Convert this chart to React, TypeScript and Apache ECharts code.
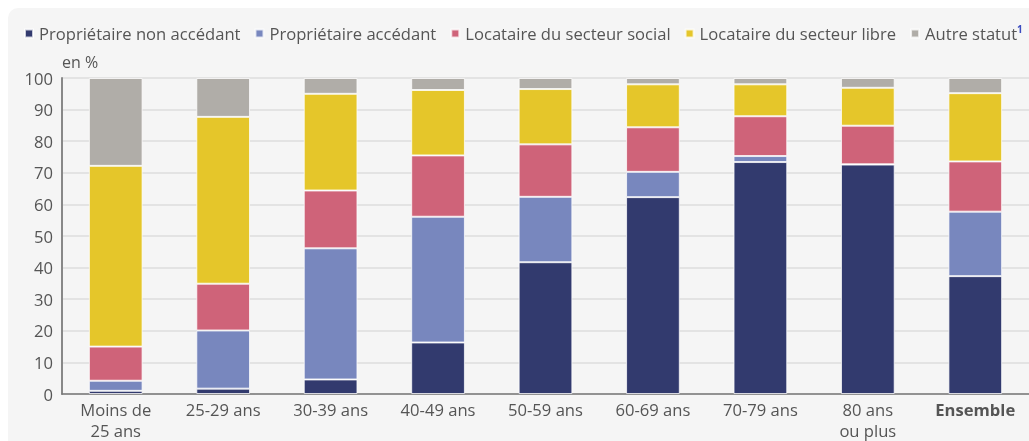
import React, { useEffect, useRef } from "react";
import * as echarts from "echarts";

const categories = [
  "Moins de\n25 ans",
  "25-29 ans",
  "30-39 ans",
  "40-49 ans",
  "50-59 ans",
  "60-69 ans",
  "70-79 ans",
  "80 ans\nou plus",
  "Ensemble",
];

const seriesNames = [
  "Propriétaire non accédant",
  "Propriétaire accédant",
  "Locataire du secteur social",
  "Locataire du secteur libre",
  "Autre statut",
];

const proprioNonAccedant = [1.0, 1.7, 4.6, 16.3, 41.7, 62.3, 73.4, 72.6, 37.3];
const proprioAccedant = [3.2, 18.4, 41.5, 39.8, 20.7, 8.0, 1.9, 0.1, 20.4];
const locataireSocial = [10.8, 14.8, 18.3, 19.4, 16.6, 14.1, 12.6, 12.2, 15.9];
const locataireLibre = [57.2, 52.8, 30.6, 20.7, 17.5, 13.6, 10.1, 12.0, 21.6];
const autreStatut = [27.8, 12.3, 5.0, 3.8, 3.5, 2.0, 2.0, 3.1, 4.8];

const colors = ["#323a6e", "#7887be", "#cf6379", "#e5c62a", "#b0ada8"];

const yTicks = { min: 0, max: 100, interval: 10 };

export default function App() {
  const ref = useRef<HTMLDivElement>(null);

  useEffect(() => {
    if (!ref.current) return;
    const chart = echarts.init(ref.current, undefined, { renderer: "svg" });
    const data = [proprioNonAccedant, proprioAccedant, locataireSocial, locataireLibre, autreStatut];
    const font = "'Open Sans', 'Noto Sans', sans-serif";
    const fs = 16.6;
    chart.setOption({
      animation: false,
      textStyle: { fontFamily: font },
      graphic: [
        {
          type: "rect",
          z: -10,
          silent: true,
          shape: { x: 8, y: 8, width: 1100, height: 500, r: 10 },
          style: { fill: "#f5f5f5" },
        },
        {
          type: "text",
          x: 62,
          y: 62,
          style: {
            text: "en %",
            fill: "#555",
            font: `16px ${font}`,
            textVerticalAlign: "middle",
          },
        },
      ],
      legend: {
        left: 19,
        top: 19,
        icon: "rect",
        itemWidth: 8,
        itemHeight: 8,
        itemGap: 14,
        textStyle: {
          fontFamily: font,
          fontSize: fs,
          color: "#555",
          padding: [0, 0, 0, 1],
          rich: {
            sup: { fontSize: 10, color: "#3b4cc0", verticalAlign: "top", padding: [0, 0, 9, 0], fontWeight: "bold" },
          },
        },
        formatter: (name: string) => (name === "Autre statut" ? name + "{sup|1}" : name),
        data: seriesNames,
      },
      grid: { left: 62, right: 0, top: 78, bottom: 41, containLabel: false },
      xAxis: {
        type: "category",
        data: categories,
        axisTick: { show: false },
        axisLine: { lineStyle: { color: "#777", width: 1.5 } },
        axisLabel: {
          color: "#555",
          fontSize: fs,
          fontFamily: font,
          lineHeight: 21,
          margin: 5,
          interval: 0,
          formatter: (v: string) => (v === "Ensemble" ? "{b|Ensemble}" : v),
          rich: { b: { fontWeight: "bold", fontSize: fs, color: "#555", fontFamily: font } },
        },
      },
      yAxis: {
        type: "value",
        min: yTicks.min,
        max: yTicks.max,
        interval: yTicks.interval,
        axisLine: { show: true, lineStyle: { color: "#888", width: 2 } },
        axisTick: { show: false },
        splitLine: { lineStyle: { color: "#dcdcdc", width: 1.5 } },
        axisLabel: { color: "#555", fontSize: fs, fontFamily: font, margin: 9 },
      },
      series: seriesNames.map((name, i) => ({
        name,
        type: "bar",
        stack: "total",
        barWidth: "50%",
        data: data[i],
        itemStyle: {
          color: colors[i],
          borderColor: "rgba(255,255,255,0.75)",
          borderWidth: 1,
        },
      })),
    });
    return () => chart.dispose();
  }, []);

  return (
    <div
      ref={ref}
      style={{ position: "fixed", left: 0, top: 0, width: 1029, height: 441 }}
    />
  );
}
